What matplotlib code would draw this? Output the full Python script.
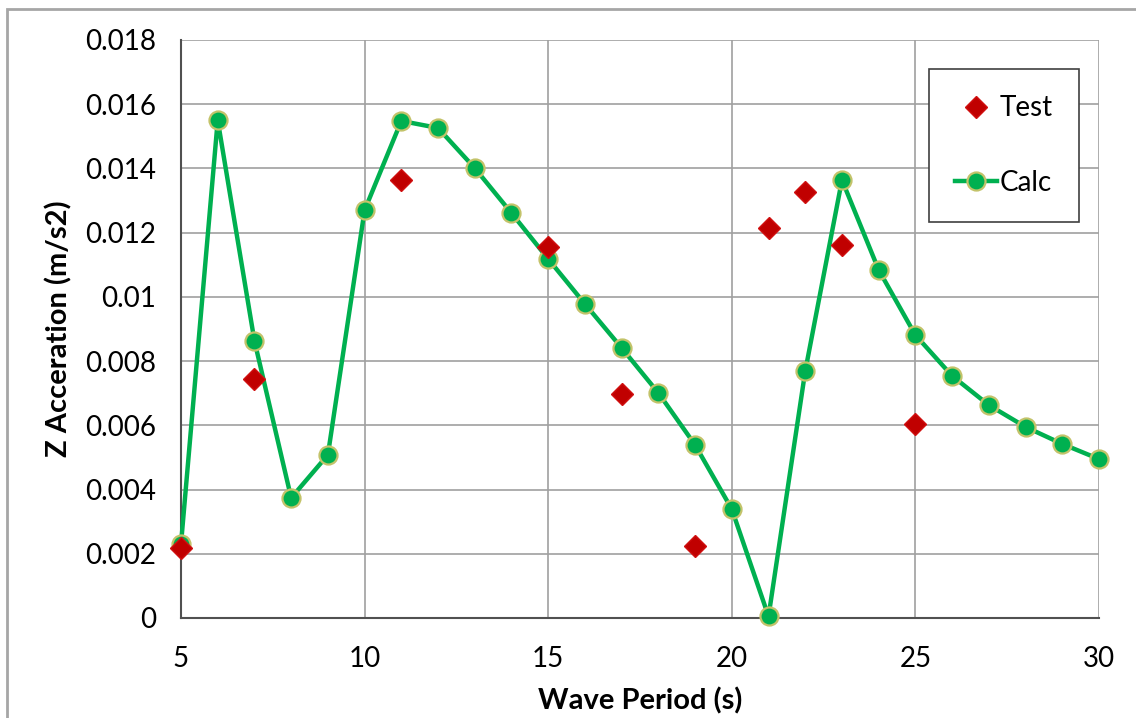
import matplotlib
matplotlib.use("Agg")
import matplotlib.pyplot as plt
from matplotlib.patches import Rectangle

# wave period (s) and Z acceleration (m/s2)
calc_period = [5, 6, 7, 8, 9, 10, 11, 12, 13, 14, 15, 16, 17, 18, 19, 20,
               21, 22, 23, 24, 25, 26, 27, 28, 29, 30]
calc_accel = [0.0023, 0.0155, 0.00863, 0.00374, 0.00508, 0.0127, 0.01548,
              0.01526, 0.01401, 0.01261, 0.01118, 0.00978, 0.00841, 0.00701,
              0.00539, 0.00339, 0.00005, 0.00769, 0.01364, 0.01084, 0.00881,
              0.00754, 0.00663, 0.00595, 0.00542, 0.00495]

test_period = [5, 7, 11, 15, 17, 19, 21, 22, 23, 25]
test_accel = [0.00218, 0.00744, 0.01364, 0.01155, 0.00698, 0.00224,
              0.01214, 0.01327, 0.01162, 0.00604]

x_ticks = [5, 10, 15, 20, 25, 30]
y_ticks = [0, 0.002, 0.004, 0.006, 0.008, 0.01, 0.012, 0.014, 0.016, 0.018]
y_labels = ['0', '0.002', '0.004', '0.006', '0.008', '0.01', '0.012',
            '0.014', '0.016', '0.018']

plt.rcParams['font.family'] = ['Lato', 'DejaVu Sans']

fig = plt.figure(figsize=(11.36, 7.18), dpi=100)
ax = fig.add_axes([181/1136, 100/718, 918/1136, 578/718])

# chart border
fig.patches.append(Rectangle((7/1136, -0.1), 1.2, (718-9)/718 + 0.1,
                             transform=fig.transFigure, fill=False,
                             edgecolor='#a6a6a6', linewidth=2))

ax.plot(test_period, test_accel, linestyle='none', marker='D', markersize=11,
        color='#c00000', markeredgecolor='#d01010', label='Test', zorder=4,
        clip_on=False)
ax.plot(calc_period, calc_accel, color='#00b050', linewidth=3.2, marker='o',
        markersize=13, markerfacecolor='#00b050', markeredgecolor='#c3c36a',
        markeredgewidth=1.6, label='Calc', zorder=3, clip_on=False)

ax.set_xlim(5, 30)
ax.set_ylim(0, 0.018)
ax.set_xticks(x_ticks)
ax.set_yticks(y_ticks)
ax.set_yticklabels(y_labels)
ax.tick_params(labelsize=20, length=0, colors='black')
ax.tick_params(axis='x', pad=20)
ax.tick_params(axis='y', pad=18)

ax.grid(True, color='#a0a0a0', linewidth=1.2)
ax.set_axisbelow(True)
for side in ['top', 'right']:
    ax.spines[side].set_visible(False)
for side in ['left', 'bottom']:
    ax.spines[side].set_color('#505050')
    ax.spines[side].set_linewidth(1.5)

ax.set_xlabel('Wave Period (s)', fontsize=21, fontweight='bold', labelpad=11)
ax.set_ylabel('Z Acceration (m/s2)', fontsize=21, fontweight='bold', labelpad=9)

leg = ax.legend(loc='upper left', bbox_to_anchor=((929-181)/918, (618-69)/578),
                fontsize=20, frameon=True, fancybox=False, labelspacing=1.75,
                borderpad=0.95, handlelength=1.5, handletextpad=0.1,
                borderaxespad=0)
leg.get_frame().set_edgecolor('#404040')
leg.get_frame().set_linewidth(1.2)
leg.get_frame().set_alpha(1)

fig.savefig('out.png', dpi=100)
